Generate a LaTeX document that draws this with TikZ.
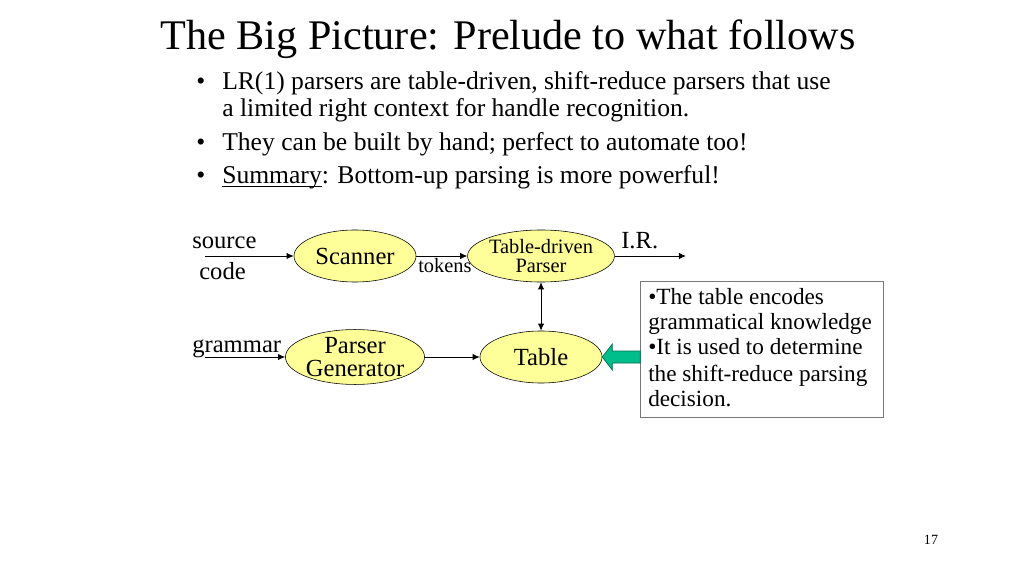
\documentclass[tikz,border=0pt]{standalone}
\usepackage{fontspec}
\setmainfont{Liberation Serif}
\usetikzlibrary{shapes.geometric,arrows.meta}
\definecolor{nodeyellow}{RGB}{255,255,153}
\definecolor{arrowgreen}{RGB}{0,190,140}
\definecolor{arrowedge}{RGB}{0,110,80}
\definecolor{boxgray}{RGB}{120,120,120}
\newcommand{\titlesize}{\fontsize{30}{34}\selectfont}
\newcommand{\bodysize}{\fontsize{18.2}{20}\selectfont}
\newcommand{\labsize}{\fontsize{17.5}{16}\selectfont}
\newcommand{\smallsize}{\fontsize{14.5}{13}\selectfont}
\newcommand{\notesize}{\fontsize{16.5}{18}\selectfont}
\newcommand{\ulword}[1]{\leavevmode\setbox0\hbox{#1}\rlap{\rule[-1.8pt]{\wd0}{0.6pt}}\box0}

\begin{document}
\begin{tikzpicture}[x=0.025cm,y=-0.025cm,
  stage/.style={ellipse,draw,fill=nodeyellow,minimum width=3.05cm,minimum height=1.3cm,inner sep=0pt,align=center,font=\labsize},
  flow/.style={-{Latex[length=5pt,width=4.5pt]},line width=0.6pt},
  lbl/.style={inner sep=0pt,anchor=base west}]
\useasboundingbox (0,0) rectangle (1024,576);

% title and bullets
\node [inner sep=0pt,anchor=base] (title) at (508,50) {\titlesize The Big Picture: Prelude to what follows};
\node [lbl] (b1) at (196,90) {\bodysize •};
\node [lbl] (t1) at (222,90) {\bodysize LR(1) parsers are table-driven, shift-reduce parsers that use};
\node [lbl] (t1b) at (222,117) {\bodysize a limited right context for handle recognition.};
\node [lbl] (b2) at (196,151) {\bodysize •};
\node [lbl] (t2) at (222,151) {\bodysize They can be built by hand; perfect to automate too!};
\node [lbl] (b3) at (196,184) {\bodysize •};
\node [lbl] (t3) at (222,184) {\bodysize \ulword{Summary}: Bottom-up parsing is more powerful!};

% the pipeline
\node [stage] (scan) at (355,256) {Scanner};
\node [stage,font=\smallsize] (parse) at (541,256) {Table-driven\\Parser};
\node [stage] (gen) at (355,357) {Parser\\Generator};
\node [stage] (tab) at (541,357) {Table};

\coordinate (src) at (205,256);
\coordinate (gram) at (205,357);
\coordinate (ir) at (686,256);

\node [lbl] (srcA) at (192,249) {\labsize source};
\node [lbl] (srcB) at (199,280) {\labsize code};
\node [lbl] (gramL) at (192,352) {\labsize grammar};
\node [lbl] (irL) at (621,249) {\labsize I.R.};
\node [lbl] (tok) at (418,273) {\smallsize tokens};

\draw [flow] (src) -- (scan);
\draw [flow] (scan) -- (parse);
\draw [flow] (parse) -- (ir);
\draw [flow] (gram) -- (gen);
\draw [flow] (gen) -- (tab);
\draw [{Latex[length=5pt,width=4.5pt]}-{Latex[length=5pt,width=4.5pt]},line width=0.6pt] (parse) -- (tab);

% note box
\node [draw=boxgray,fill=white,anchor=north west,minimum width=6.08cm,minimum height=3.4cm,inner sep=0pt] (note) at (640,281) {};
\node [lbl] (n1) at (648,305) {\notesize •The table encodes};
\node [lbl] (n2) at (648,330) {\notesize grammatical knowledge};
\node [lbl] (n3) at (648,355) {\notesize •It is used to determine};
\node [lbl] (n4) at (648,381) {\notesize the shift-reduce parsing};
\node [lbl] (n5) at (648,406) {\notesize decision.};

\coordinate (tip) at (tab.east);
\filldraw [fill=arrowgreen,draw=arrowedge,line width=0.5pt]
  (tip) -- ++(10,-13) -- ++(0,7) -- ++(28,0) -- ++(0,12) -- ++(-28,0) -- ++(0,7) -- cycle;

\node [inner sep=0pt,anchor=base] (page) at (931,544) {\fontsize{10}{12}\selectfont 17};
\end{tikzpicture}
\end{document}
